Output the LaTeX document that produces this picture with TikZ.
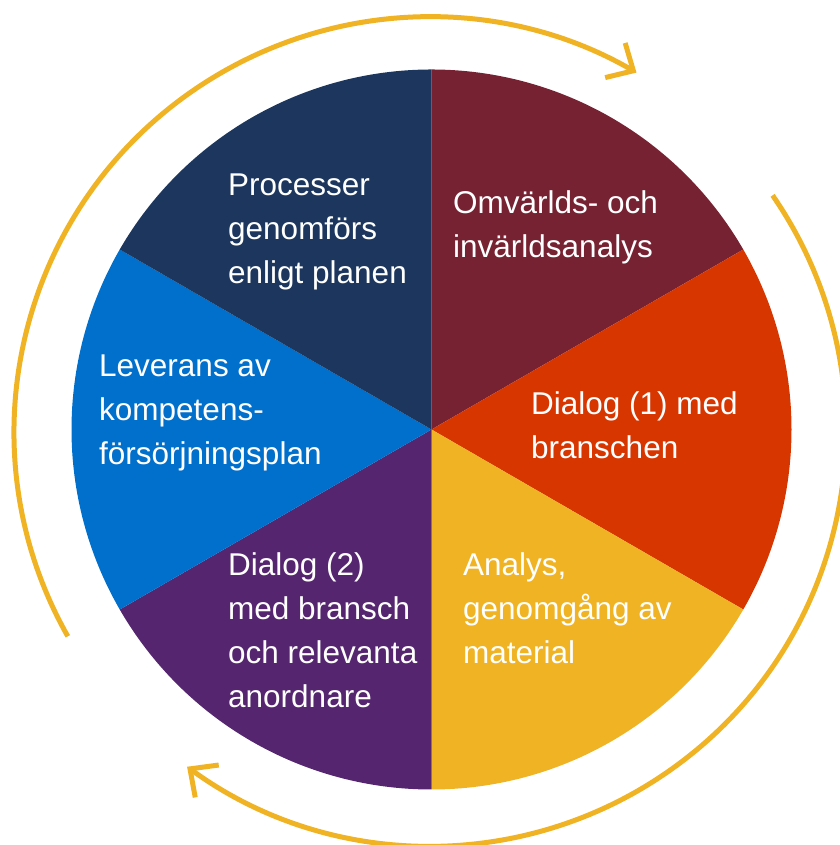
\documentclass[tikz,border=0pt]{standalone}
\usepackage{fontspec}
\setmainfont{Liberation Sans}
\usetikzlibrary{arrows.meta,calc}
\definecolor{cnavy}{HTML}{1C365D}
\definecolor{cwine}{HTML}{762232}
\definecolor{corange}{HTML}{D83601}
\definecolor{cyellow}{HTML}{F0B323}
\definecolor{cpurple}{HTML}{55256F}
\definecolor{cblue}{HTML}{0070CC}
\tikzset{
  lbl/.style={anchor=base west, align=left, inner sep=0pt, text=white,
    font=\fontsize{31.5}{44}\selectfont},
  cyc/.style={draw=cyellow, line width=5pt,
    -{Straight Barb[length=21pt,width=40pt]}}
}
\begin{document}
\begin{tikzpicture}[x=1pt,y=1pt]
\useasboundingbox (0,0) rectangle (839,845);
\coordinate (c) at (431.5,415.5);
\def\R{360}
\fill[cwine]   (c) -- ++(30:\R)  arc (30:90:\R)   -- cycle;
\fill[corange] (c) -- ++(-30:\R) arc (-30:30:\R)  -- cycle;
\fill[cyellow] (c) -- ++(-90:\R) arc (-90:-30:\R) -- cycle;
\fill[cpurple] (c) -- ++(-150:\R) arc (-150:-90:\R) -- cycle;
\fill[cblue]   (c) -- ++(150:\R) arc (150:210:\R) -- cycle;
\fill[cnavy]   (c) -- ++(90:\R)  arc (90:150:\R)  -- cycle;
% cycle arrows
\coordinate (a1) at (429,413);
\coordinate (a2) at (431,414);
\draw[cyc] ($(a1)+(209.5:415)$) arc (209.5:60:415);
\draw[cyc] ($(a2)+(34.6:415)$) arc (34.6:-126:415);
% labels (anchored at the baseline of the last line)
\node[lbl] (t1) at (228,561) {Processer\\genomförs\\enligt planen};
\node[lbl] (t2) at (453,587) {Omvärlds- och\\invärldsanalys};
\node[lbl] (t3) at (531,386) {Dialog (1) med\\branschen};
\node[lbl] (t4) at (463,181) {Analys,\\genomgång av\\material};
\node[lbl] (t5) at (228,137) {Dialog (2)\\med bransch\\och relevanta\\anordnare};
\node[lbl] (t6) at (99,380) {Leverans av\\kompetens-\\försörjningsplan};
\end{tikzpicture}
\end{document}
